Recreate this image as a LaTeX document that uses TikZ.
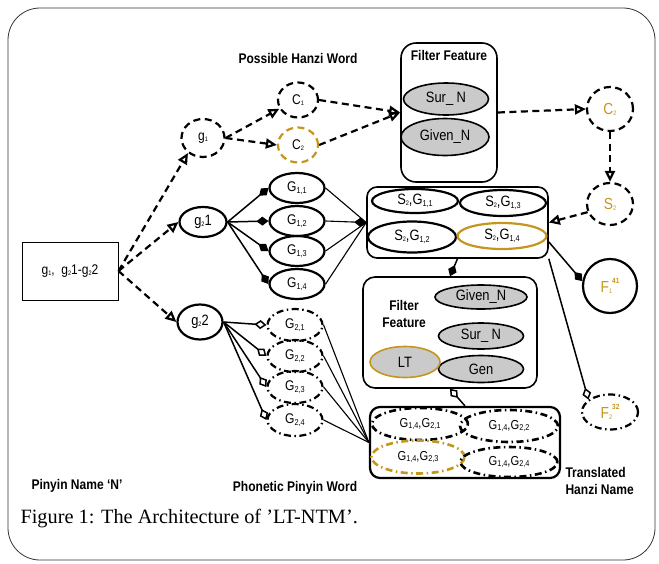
\documentclass[tikz,border=0pt]{standalone}
\usepackage{fontspec}
\setmainfont{Liberation Sans}[FakeStretch=0.86]
\newfontfamily\capfont{Liberation Serif}
\usetikzlibrary{arrows.meta,shapes.geometric}
\definecolor{gold}{RGB}{196,150,30}
\definecolor{fillgray}{RGB}{202,202,202}
% small index (single digit) and wider index pair
\newcommand\los[1]{\raisebox{-0.1ex}{\fontsize{6.5}{6.5}\selectfont #1}}
\newcommand\lo[1]{\raisebox{-0.2ex}{\fontsize{8.5}{8.5}\selectfont #1}}
\newcommand\hi[1]{\raisebox{1.1ex}{\fontsize{7.5}{7.5}\selectfont\bfseries #1}}
\begin{document}
\begin{tikzpicture}[x=1pt,y=-1pt,
  every node/.style={font=\fontsize{14}{15}\selectfont},
  el/.style={ellipse, draw, line width=2.2pt, inner sep=0pt},
  gr/.style={ellipse, draw, line width=1.6pt, inner sep=0pt, fill=fillgray},
  dsh/.style={dash pattern=on 7pt off 4.5pt},
  dd/.style={dash pattern=on 7pt off 3.5pt on 1.5pt off 3.5pt},
  panel/.style={draw, rounded corners=#1, line width=1.6pt, inner sep=0pt},
  dcon/.style={line width=2.2pt, dsh, -{Triangle[open,length=11pt,width=10pt]}},
  thin/.style={line width=1.1pt},
  mid/.style={line width=1.5pt},
  dia/.style={mid, -{Diamond[length=12pt,width=9pt]}},
  odia/.style={mid, -{Diamond[open,length=12pt,width=9pt]}},
  lbl/.style={font=\bfseries\fontsize{14}{17}\selectfont, align=center},
  big/.style={font=\fontsize{15}{16}\selectfont},
  sm/.style={font=\fontsize{13}{14}\selectfont}]
\useasboundingbox (0,0) rectangle (659,563);
% outer frame
\draw[line width=0.8pt, draw=black!80, rounded corners=32pt] (8,8) rectangle (655,560);

% input name
\node[draw, line width=1pt, minimum width=96pt, minimum height=58pt] (lb) at (70,271) {g\los{1},\ \ g\los{2}1-g\los{2}2};

% pinyin syllables
\node[el, dsh, minimum width=43pt, minimum height=38pt] (g1) at (203,138) {g\los{1}};
\node[el, big, minimum width=47pt, minimum height=30pt] (g21) at (203,222) {g\los{2}1};
\node[el, big, minimum width=45pt, minimum height=35pt] (g22) at (200,322) {g\los{2}2};

% possible hanzi words
\node[el, dsh, minimum width=40pt, minimum height=35pt] (c1) at (298,100) {C\los{1}};
\node[el, dsh, draw=gold, minimum width=40pt, minimum height=35pt] (c2) at (298,145) {C\los{2}};

% phonetic pinyin words
\foreach \i/\y in {1/188,2/221,3/251,4/284}
  \node[el, minimum width=55pt, minimum height=30pt] (G1\i) at (297,\y) {G\lo{1,\i}};
\foreach \i/\y in {1/325,2/356,3/387,4/420}
  \node[el, dd, minimum width=55pt, minimum height=32pt] (G2\i) at (295,\y) {G\lo{2,\i}};

% first filter feature
\node[panel=15pt, minimum width=96pt, minimum height=139pt] (ff1) at (449,112.5) {};
\node[lbl] (ff1t) at (449,55) {Filter Feature};
\node[gr, big, minimum width=85pt, minimum height=32pt] (sur1) at (446,99) {Sur\_ N};
\node[gr, big, minimum width=88pt, minimum height=37pt] (giv1) at (445,137) {Given\_N};

% surname chain
\node[el, dsh, font=\fontsize{16}{17}\selectfont, minimum width=46pt, minimum height=44pt, text=gold] (cr) at (610,109) {C\los{2}};
\node[el, dsh, font=\fontsize{16}{17}\selectfont, minimum width=46pt, minimum height=42pt, text=gold] (sr) at (610,204) {S\los{2}};

% surname / given name pairs
\node[panel=10pt, minimum width=181pt, minimum height=71pt] (sbox) at (457.5,222.5) {};
\node[el, big, minimum width=86pt, minimum height=24pt] (s11) at (415,201) {S\los{2},G\lo{1,1}};
\node[el, big, minimum width=86pt, minimum height=26pt] (s13) at (503,203) {S\los{2},G\lo{1,3}};
\node[el, big, minimum width=88pt, minimum height=31pt] (s12) at (412,237) {S\los{2},G\lo{1,2}};
\node[el, big, draw=gold, minimum width=89pt, minimum height=26pt] (s14) at (502,236) {S\los{2},G\lo{1,4}};

% second filter feature
\node[panel=12pt, minimum width=174pt, minimum height=111pt] (ff2) at (450,332.5) {};
\node[lbl] (ff2t) at (404,314) {Filter\\Feature};
\node[gr, big, minimum width=92pt, minimum height=24pt] (giv2) at (481,297) {Given\_N};
\node[gr, big, minimum width=85pt, minimum height=26pt] (sur2) at (481,336) {Sur\_ N};
\node[gr, big, minimum width=85pt, minimum height=27pt] (gen) at (481,369) {Gen};
\node[gr, big, draw=gold, minimum width=70pt, minimum height=31pt] (lt) at (405,362) {LT};

% translated names
\node[panel=10pt, line width=2.2pt, minimum width=190pt, minimum height=71pt] (bb) at (465,442.5) {};
\node[el, dd, line width=2.6pt, sm, minimum width=96pt, minimum height=32pt] (b1) at (420,424) {G\lo{1,4},G\lo{2,1}};
\node[el, dd, line width=2.6pt, sm, minimum width=98pt, minimum height=32pt] (b2) at (509,426) {G\lo{1,4},G\lo{2,2}};
\node[el, dd, line width=2.6pt, sm, draw=gold, minimum width=93pt, minimum height=33pt] (b3) at (418,457) {G\lo{1,4},G\lo{2,3}};
\node[el, dd, line width=2.6pt, sm, minimum width=97pt, minimum height=30pt] (b4) at (509,462) {G\lo{1,4},G\lo{2,4}};

% final outputs
\node[circle, draw, line width=2.2pt, minimum size=54pt, inner sep=0pt, text=gold, font=\fontsize{16}{17}\selectfont] (f1) at (610,286) {F\los{1}\hi{41}};
\node[el, dd, minimum width=56pt, minimum height=35pt, text=gold, font=\fontsize{16}{17}\selectfont] (f2) at (610,412) {F\los{2}\hi{32}};

% labels
\node[lbl] (lab1) at (298,58) {Possible Hanzi Word};
\node[lbl] (lab2) at (77,486) {Pinyin Name ‘N’};
\node[lbl] (lab3) at (295,488) {Phonetic Pinyin Word};
\node[lbl, align=left, anchor=west] (lab4) at (562,481) {Translated\\Hanzi Name};
\node[anchor=west, font=\capfont\fontsize{20.3}{22}\selectfont] (cap) at (17,519) {Figure 1: The Architecture of ’LT-NTM’.};

% dashed connectors
\draw[dcon] (lb.east) -- (g1.225);
\draw[dcon] (lb.east) -- (g21.west);
\draw[dcon] (lb.east) -- (g22.west);
\draw[dcon] (g1.east) -- (c1.205);
\draw[dcon] (g1.east) -- (c2.west);
\draw[dcon] (c1.east) -- (ff1.west);
\draw[dcon] (c2.east) -- (ff1.west);
\draw[dcon] (ff1.east) -- (cr.west);
\draw[dcon] (cr.south) -- (sr.north);
\draw[dcon] (sr.200) -- (sbox.east);

% solid connectors
\foreach \i in {1,...,4} {
  \draw[dia] (g21.east) -- (G1\i.west);
  \draw[odia] (g22.east) -- (G2\i.west);
  \draw[thin] (G2\i.east) -- (bb.west);
}
\draw[thin] (G11.east) -- (sbox.west);
\draw[thin, -{Diamond[length=12pt,width=9pt]}] (G12.east) -- (sbox.west);
\draw[thin] (G13.east) -- (sbox.west);
\draw[thin] (G14.east) -- (sbox.west);
\draw[dia] (sbox.south) -- (ff2.north);
\draw[odia] (bb.north) -- (ff2.south);
\draw[dia] (sbox.-12) -- (f1.170);
\draw[odia] (sbox.south east) -- (f2.150);
\end{tikzpicture}
\end{document}
